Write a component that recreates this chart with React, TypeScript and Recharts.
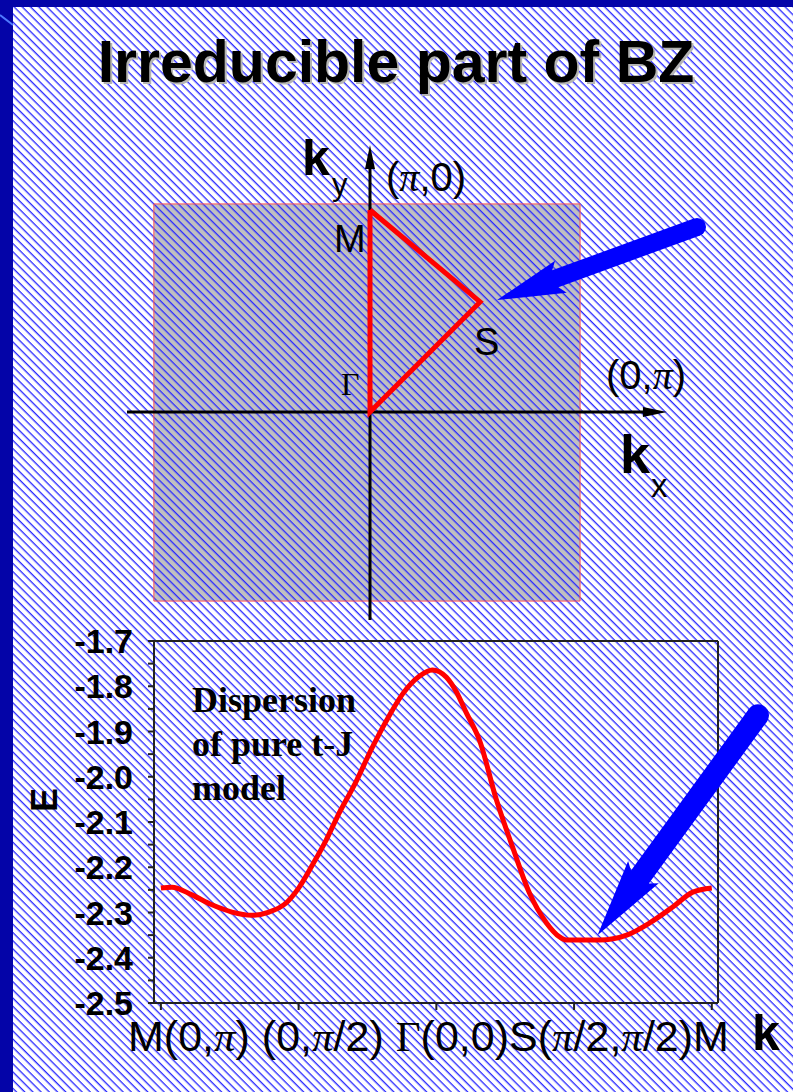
import React from 'react';
import { ComposedChart, Line, XAxis, YAxis, ReferenceArea, ReferenceLine } from 'recharts';

const PAGE_W = 793;
const PAGE_H = 1092;
const SANS = "'Liberation Sans', Arial, sans-serif";
const SERIF = "'Liberation Serif', 'Times New Roman', serif";

// ---- Brillouin-zone sketch, coordinates in units of π ----
const bzSquare = { x1: -1.07, x2: 1.04, y1: -0.936, y2: 1.03 };
const kxAxisSeg = [{ x: -1.203, y: 0 }, { x: 1.47, y: 0 }];
const kyAxisSeg = [{ x: 0, y: -1.03 }, { x: 0, y: 1.322 }];
const wedgeX = [0, 0.545, 0, 0];
const wedgeY = [1.0, 0.545, 0, 1.0];
const bzArrowSeg = [{ x: 1.619, y: 0.916 }, { x: 0.629, y: 0.554 }];

// ---- dispersion along M -> (0,π/2) -> Γ -> S -> M ----
const kPath = [
  0, 0.08, 0.225, 0.371, 0.516, 0.662, 0.785, 0.909, 1.0, 1.1, 1.2, 1.28, 1.418, 1.535,
  1.658, 1.753, 1.876, 1.971, 2.073, 2.145, 2.218, 2.313, 2.436, 2.553, 2.676, 2.8, 2.895,
  2.945, 3.185, 3.382, 3.549, 3.716, 3.862, 4.0,
];
const energy = [
  -2.246, -2.244, -2.261, -2.283, -2.299, -2.306, -2.299, -2.279, -2.246, -2.195, -2.14,
  -2.089, -2.01, -1.935, -1.865, -1.818, -1.778, -1.764, -1.78, -1.812, -1.859, -1.919,
  -2.051, -2.155, -2.257, -2.323, -2.354, -2.361, -2.361, -2.35, -2.323, -2.288, -2.255,
  -2.246,
];
const xTickValues = [0, 1, 2, 3, 4];
const xTickLabels = ['M(0,π)', '(0,π/2)', 'Γ(0,0)', 'S(π/2,π/2)', 'M'];
const xLabelJoiners = [' ', ' ', '', '', ''];
const yTickValues = [
  -2.5, -2.45, -2.4, -2.35, -2.3, -2.25, -2.2, -2.15, -2.1, -2.05, -2.0, -1.95, -1.9,
  -1.85, -1.8, -1.75, -1.7,
];
const xDomain = [-0.05, 4.045];
const yDomain = [-2.5, -1.7];
const dispArrowSeg = [{ x: 4.335, y: -1.864 }, { x: 3.17, y: -2.35 }];
const noteLines = ['Dispersion', 'of pure t-J', 'model'];

const dispersion = kPath.map((k, i) => ({ k, E: energy[i] }));
const wedge = wedgeX.map((x, i) => ({ x, y: wedgeY[i] }));

// splits a label so that π is set in italic serif and Γ in upright serif
const rich = (s: string, keyBase: string) =>
  s
    .split(/(π|Γ)/)
    .filter((p) => p.length > 0)
    .map((p, i) => {
      if (p === 'π')
        return (
          <tspan key={keyBase + i} fontFamily={SERIF} fontStyle="italic">
            π
          </tspan>
        );
      if (p === 'Γ')
        return (
          <tspan key={keyBase + i} fontFamily={SERIF}>
            Γ
          </tspan>
        );
      return <tspan key={keyBase + i}>{p}</tspan>;
    });

// thick block arrow with a round tail
const blockArrow = (w: number, h: number, L: number) => (props: any) => {
  const { x1, y1, x2, y2 } = props;
  const dx = x2 - x1;
  const dy = y2 - y1;
  const len = Math.hypot(dx, dy);
  const ux = dx / len;
  const uy = dy / len;
  const nx = -uy;
  const ny = ux;
  const bx = x2 - ux * L;
  const by = y2 - uy * L;
  const pts = [
    [x1 + nx * w, y1 + ny * w],
    [bx + nx * w, by + ny * w],
    [bx + nx * h - ux * 6, by + ny * h - uy * 6],
    [x2, y2],
    [bx - nx * h - ux * 6, by - ny * h - uy * 6],
    [bx - nx * w, by - ny * w],
    [x1 - nx * w, y1 - ny * w],
  ];
  return (
    <g>
      <polygon points={pts.map((p) => p.join(',')).join(' ')} fill="#0000ff" />
      <circle cx={x1} cy={y1} r={w} fill="#0000ff" />
    </g>
  );
};

// thin coordinate axis with a narrow arrowhead
const axisArrow = (props: any) => {
  const { x1, y1, x2, y2 } = props;
  const dx = x2 - x1;
  const dy = y2 - y1;
  const len = Math.hypot(dx, dy);
  const ux = dx / len;
  const uy = dy / len;
  const L = 24;
  const h = 5;
  const bx = x2 - ux * L;
  const by = y2 - uy * L;
  return (
    <g>
      <line x1={x1} y1={y1} x2={bx + ux * 2} y2={by + uy * 2} stroke="#000" strokeWidth={3} />
      <polygon
        points={`${x2},${y2} ${bx - uy * h},${by + ux * h} ${bx + uy * h},${by - ux * h}`}
        fill="#000"
      />
    </g>
  );
};

const YTick = (props: any) => {
  const { x, y, payload } = props;
  const v = payload.value as number;
  if (Math.round(v * 100) % 10 !== 0) return <g />;
  return (
    <text x={x} y={y} dy={12} textAnchor="end" fontFamily={SANS} fontWeight="bold" fontSize={34} fill="#000">
      {v.toFixed(1)}
    </text>
  );
};

const EmptyTick = () => <g />;

export default function App() {
  return (
    <div style={{ position: 'absolute', left: 0, top: 0, width: PAGE_W, height: PAGE_H, overflow: 'hidden' }}>
      {/* slide background: dark frame and hatched white field */}
      <svg width={PAGE_W} height={PAGE_H} style={{ position: 'absolute', left: 0, top: 0 }}>
        <defs>
          <pattern id="hatch" patternUnits="userSpaceOnUse" width={5.8} height={5.8} patternTransform="rotate(45)">
            <rect x={0} y={0} width={5.8} height={1.35} fill="#2b2bff" />
          </pattern>
        </defs>
        <rect x={0} y={0} width={PAGE_W} height={PAGE_H} fill="#0404a8" />
        <rect x={13} y={7} width={PAGE_W - 13} height={PAGE_H - 7} fill="#ffffff" />
        <rect x={13} y={7} width={PAGE_W - 13} height={PAGE_H - 7} fill="url(#hatch)" />
        <line x1={0} y1={15} x2={13} y2={25} stroke="#4f7bff" strokeWidth={2} />
      </svg>

      {/* Brillouin zone with the irreducible wedge */}
      <div style={{ position: 'absolute', left: 0, top: 0 }}>
        <ComposedChart width={PAGE_W} height={625} margin={{ top: 0, right: 0, bottom: 0, left: 0 }}>
          <XAxis type="number" dataKey="x" domain={[-1.8317, 2.0941]} allowDataOverflow hide />
          <YAxis type="number" domain={[-1.0545, 2.0396]} allowDataOverflow hide />
          <ReferenceArea {...bzSquare} fill="#c0c0c0" fillOpacity={1} stroke="none" ifOverflow="visible" />
          <ReferenceArea {...bzSquare} fill="url(#hatch)" fillOpacity={1} stroke="#ff5050" strokeWidth={1} ifOverflow="visible" />
          <ReferenceLine segment={kxAxisSeg} shape={axisArrow} ifOverflow="visible" />
          <ReferenceLine segment={kyAxisSeg} shape={axisArrow} ifOverflow="visible" />
          <Line
            data={wedge}
            dataKey="y"
            type="linear"
            stroke="#ff0000"
            strokeWidth={5}
            strokeLinejoin="miter"
            dot={false}
            activeDot={false}
            isAnimationActive={false}
          />
          <ReferenceLine segment={bzArrowSeg} shape={blockArrow(9, 17, 62)} ifOverflow="visible" />
        </ComposedChart>
      </div>

      {/* t-J dispersion */}
      <div style={{ position: 'absolute', left: 0, top: 600 }}>
        <ComposedChart
          width={PAGE_W}
          height={492}
          data={dispersion}
          margin={{ top: 41, right: 75, bottom: 29, left: 0 }}
        >
          <XAxis
            type="number"
            dataKey="k"
            domain={xDomain}
            ticks={xTickValues}
            allowDataOverflow
            height={60}
            tickSize={7}
            tick={EmptyTick}
            axisLine={{ stroke: '#222', strokeWidth: 2 }}
            tickLine={{ stroke: '#222', strokeWidth: 2 }}
          />
          <YAxis
            type="number"
            domain={yDomain}
            ticks={yTickValues}
            allowDataOverflow
            width={154}
            tickSize={6}
            tickMargin={15}
            tick={YTick}
            interval={0}
            axisLine={{ stroke: '#222', strokeWidth: 2 }}
            tickLine={{ stroke: '#222', strokeWidth: 2 }}
          />
          <ReferenceLine y={yDomain[1]} stroke="#222" strokeWidth={2} />
          <ReferenceLine x={xDomain[1]} stroke="#222" strokeWidth={2} />
          <Line
            dataKey="E"
            type="monotone"
            stroke="#ff0000"
            strokeWidth={5}
            dot={false}
            activeDot={false}
            isAnimationActive={false}
          />
          <ReferenceLine segment={dispArrowSeg} shape={blockArrow(11, 19, 72)} ifOverflow="visible" />
        </ComposedChart>
      </div>

      {/* titles and labels */}
      <svg
        width={PAGE_W}
        height={PAGE_H}
        style={{ position: 'absolute', left: 0, top: 0, pointerEvents: 'none', whiteSpace: 'pre' }}
      >
        <text x={398} y={84} textAnchor="middle" fontFamily={SANS} fontWeight="bold" fontSize={59} fill="#b4b4b4">
          Irreducible part of BZ
        </text>
        <text x={396} y={82} textAnchor="middle" fontFamily={SANS} fontWeight="bold" fontSize={59} fill="#000">
          Irreducible part of BZ
        </text>

        <text x={302} y={175} fontFamily={SANS} fontWeight="bold" fontSize={50} fill="#000">k</text>
        <text x={332} y={195} fontFamily={SANS} fontSize={31} fill="#000">y</text>
        <text x={386} y={191} fontFamily={SANS} fontSize={40} fill="#000">{rich('(π,0)', 'a')}</text>
        <text x={334} y={252} fontFamily={SANS} fontSize={38} fill="#000">M</text>
        <text x={474} y={355} fontFamily={SANS} fontSize={38} fill="#000">S</text>
        <text x={341} y={395} fontFamily={SERIF} fontSize={32} fill="#000">Γ</text>
        <text x={606} y={389} fontFamily={SANS} fontSize={40} fill="#000">{rich('(0,π)', 'b')}</text>
        <text x={620} y={473} fontFamily={SANS} fontWeight="bold" fontSize={54} fill="#000">k</text>
        <text x={651} y={497} fontFamily={SANS} fontSize={33} fill="#000">x</text>

        {noteLines.map((t, i) => (
          <text key={t} x={192} y={712 + i * 44} fontFamily={SERIF} fontWeight="bold" fontSize={36} fill="#000">
            {t}
          </text>
        ))}

        <text
          x={0}
          y={0}
          transform="translate(57,800) rotate(-90)"
          textAnchor="middle"
          fontFamily={SANS}
          fontWeight="bold"
          fontSize={36}
          fill="#000"
        >
          E
        </text>

        <text x={128} y={1051} fontFamily={SANS} fontSize={43} fill="#000">
          {xTickLabels.map((l, i) => (
            <React.Fragment key={'x' + i}>
              {rich(l, 'x' + i + '_')}
              {xLabelJoiners[i] ? <tspan>{xLabelJoiners[i]}</tspan> : null}
            </React.Fragment>
          ))}
        </text>
        <text x={752} y={1050} fontFamily={SANS} fontWeight="bold" fontSize={50} fill="#000">k</text>
      </svg>
    </div>
  );
}
